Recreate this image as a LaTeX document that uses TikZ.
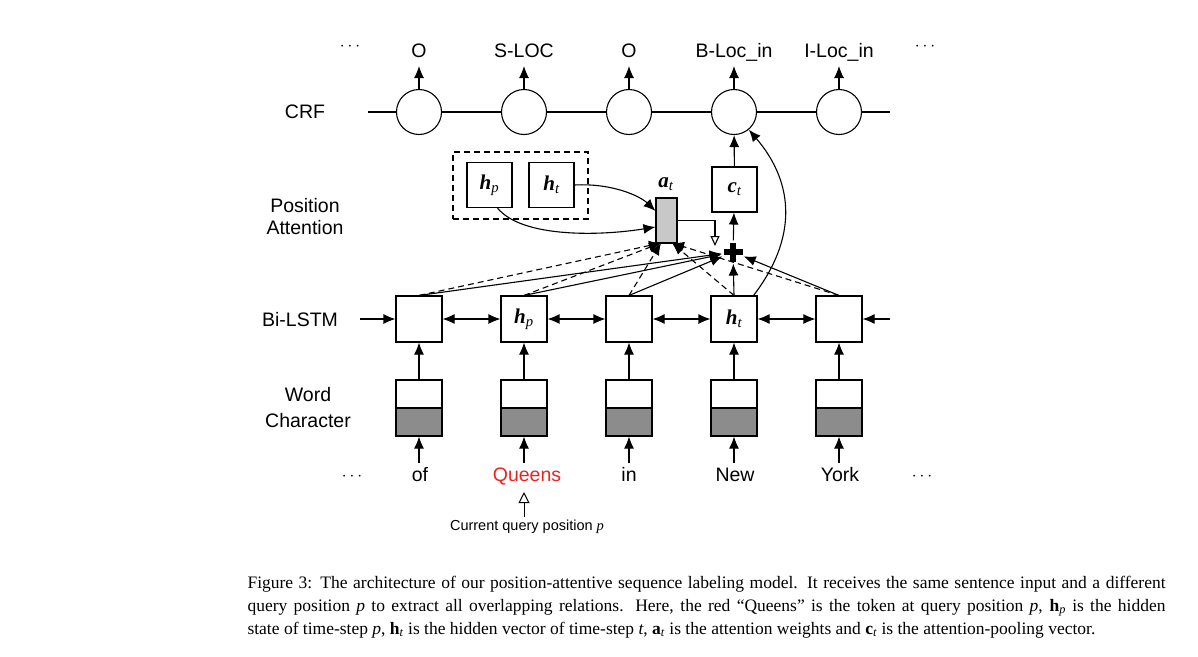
\documentclass[tikz,border=0pt]{standalone}
\usepackage{fontspec}
\setmainfont{Liberation Serif}
\newfontfamily\sans{Liberation Sans}
\usetikzlibrary{arrows.meta,calc}
\definecolor{wgray}{RGB}{140,140,140}
\definecolor{agray}{RGB}{200,200,200}
\definecolor{qred}{RGB}{235,35,35}
\begin{document}
\begin{tikzpicture}[x=1pt,y=-1pt,line width=1.1pt,
  lbl/.style={font=\sans\fontsize{19.5}{22}\selectfont,inner sep=0pt},
  outlbl/.style={lbl,text height=14pt,text depth=0pt,outer sep=9pt,anchor=base},
  wordlbl/.style={lbl,text height=14pt,text depth=0pt,outer sep=4pt,anchor=base},
  vec/.style={font=\fontsize{21}{22}\selectfont\bfseries\itshape},
  crfnode/.style={circle,draw,fill=white,minimum size=45pt,inner sep=0pt},
  lstmbox/.style={draw,fill=white,minimum size=46pt,inner sep=0pt},
  halfbox/.style={draw,minimum width=46pt,minimum height=28pt,inner sep=0pt},
  arr/.style={-{Latex[length=12pt,width=10pt]}},
  darr/.style={{Latex[length=12pt,width=10pt]}-{Latex[length=12pt,width=10pt]}},
  oarr/.style={-{Triangle[open,length=10pt,width=9pt]}},
  dsh/.style={dash pattern=on 6pt off 4pt},
  dotsnode/.style={font=\fontsize{17}{20}\selectfont,inner sep=0pt}]
\useasboundingbox (0,0) rectangle (1198,656);

% ---------- CRF layer ----------
\coordinate (crfL) at (368,112);
\coordinate (crfR) at (890,112);
\draw (crfL) -- (crfR);
\foreach \i/\x/\t in {1/419/O,2/524/S-LOC,3/629/O,4/734/B-Loc\_in,5/839/I-Loc\_in}{
  \node[crfnode] (c\i) at (\x,112) {};
  \node[outlbl] (o\i) at (\x,57) {\t};
  \draw[arr] (c\i) -- (o\i);
}
\node[dotsnode] (dtl) at (350,47) {$\cdots$};
\node[dotsnode] (dtr) at (925,47) {$\cdots$};

% ---------- Bi-LSTM ----------
\foreach \i/\x in {1/419,2/524,3/629,4/734,5/839}{
  \node[lstmbox] (l\i) at (\x,319) {};
  \node[halfbox,fill=white] (wt\i) at (\x,394) {};
  \node[halfbox,fill=wgray] (wb\i) at (\x,422) {};
  \draw[arr] (wt\i) -- (l\i);
}
\node[vec] at (l2) {h\textsubscript{\mdseries p}};
\node[vec] at (l4) {h\textsubscript{\mdseries t}};
\draw[darr] (l1) -- (l2);
\draw[darr] (l2) -- (l3);
\draw[darr] (l3) -- (l4);
\draw[darr] (l4) -- (l5);
\coordinate (inL) at (360,319);
\coordinate (inR) at (890,319);
\draw[arr] (inL) -- (l1);
\draw[arr] (inR) -- (l5);

% ---------- words ----------
\node[wordlbl] (w1) at (420,481) {of};
\node[wordlbl,text=qred] (w2) at (527,481) {Queens};
\node[wordlbl] (w3) at (629,481) {in};
\node[wordlbl] (w4) at (735,481) {New};
\node[wordlbl] (w5) at (840,481) {York};
\foreach \i in {1,...,5}{\draw[arr] (w\i.north -| wb\i) -- (wb\i);}
\node[dotsnode] (dbl) at (352,477) {$\cdots$};
\node[dotsnode] (dbr) at (922,477) {$\cdots$};

\node[font=\sans\fontsize{14.5}{17}\selectfont,inner sep=0pt,outer sep=3pt] (qp) at (527,527) {Current query position {\rmfamily\itshape p}};
\coordinate (qtip) at (524,492);
\draw[line width=1pt,-{Triangle[open,length=11pt,width=11pt]}] (qp.north -| qtip) -- (qtip);

% ---------- left labels ----------
\node[lbl] (lcrf) at (305,112) {CRF};
\node[lbl,align=center] (lpa) at (305,217) {Position\\Attention};
\node[lbl] (lbi) at (300,320) {Bi-LSTM};
\node[lbl,align=center] (lwc) at (308,408) {Word\\[4pt]Character};

% ---------- attention ----------
\node[draw,dsh,minimum width=135pt,minimum height=67pt,inner sep=0pt] (attbox) at (520.5,185.5) {};
\node[lstmbox,minimum size=45pt] (hp) at (489.5,185) {};
\node[vec] at (hp) {h\textsubscript{\mdseries p}};
\node[lstmbox,minimum size=45pt] (ht) at (551.5,185) {};
\node[vec] at (ht) {h\textsubscript{\mdseries t}};
\node[draw,fill=agray,minimum width=21pt,minimum height=45pt,inner sep=0pt] (attw) at (666.5,220.5) {};
\node[vec] (atlbl) at (666,184) {a\textsubscript{\mdseries t}};
\node[lstmbox,minimum size=45pt] (ct) at (734.5,189.5) {};
\node[vec] at (ct) {c\textsubscript{\mdseries t}};
\node[circle,minimum size=22pt,inner sep=0pt] (plus) at (733,252) {};

\coordinate (atL) at (661,243);
\coordinate (atR) at (672,243);
\coordinate (ain) at (715,246);

% dashed connections to attention weights
\foreach \i in {1,2,3}{\draw[dsh,arr] (l\i.north) -- (atL);}
\foreach \i in {4,5}{\draw[dsh,arr] (l\i.north) -- (atR);}
% solid connections to the sum
\foreach \i in {1,...,5}{\draw[arr] (l\i.north) -- (plus);}

\fill ($(plus)+(-9.5,-3)$) rectangle ($(plus)+(9.5,3)$);
\fill ($(plus)+(-3,-9.5)$) rectangle ($(plus)+(3,9.5)$);

\draw[arr] (ht.east) .. controls (612,183) and (640,196) .. (attw.west |- 0,211);
\draw[arr] ($(hp.south)+(8,0)$) .. controls (522,238) and (600,236) .. (attw.west |- 0,227);
\draw[oarr] (attw.east) -| (ain);
\draw[arr] (plus) -- (ct);
\draw[arr] (ct) -- (c4);
\draw[arr] ($(l4.north east)+(-4,0)$) .. controls (796,240) and (796,185) .. (c4.-50);

% ---------- caption ----------
\begin{scope}[every node/.style={anchor=base west,inner sep=0pt,font=\fontsize{17.5}{21}\selectfont}]
\node (cap1) at (247,588) {\hbox to 918pt{Figure 3: The architecture of our position-attentive sequence labeling model. It receives the same sentence input and a different}};
\node (cap2) at (247,611) {\hbox to 918pt{query position \textit{p} to extract all overlapping relations. Here, the red “Queens” is the token at query position \textit{p}, \textbf{h}\textsubscript{\textit{p}} is the hidden}};
\node (cap3) at (247,634) {state of time-step \textit{p}, \textbf{h}\textsubscript{\textit{t}} is the hidden vector of time-step \textit{t}, \textbf{a}\textsubscript{\textit{t}} is the attention weights and \textbf{c}\textsubscript{\textit{t}} is the attention-pooling vector.};
\end{scope}
\end{tikzpicture}
\end{document}
